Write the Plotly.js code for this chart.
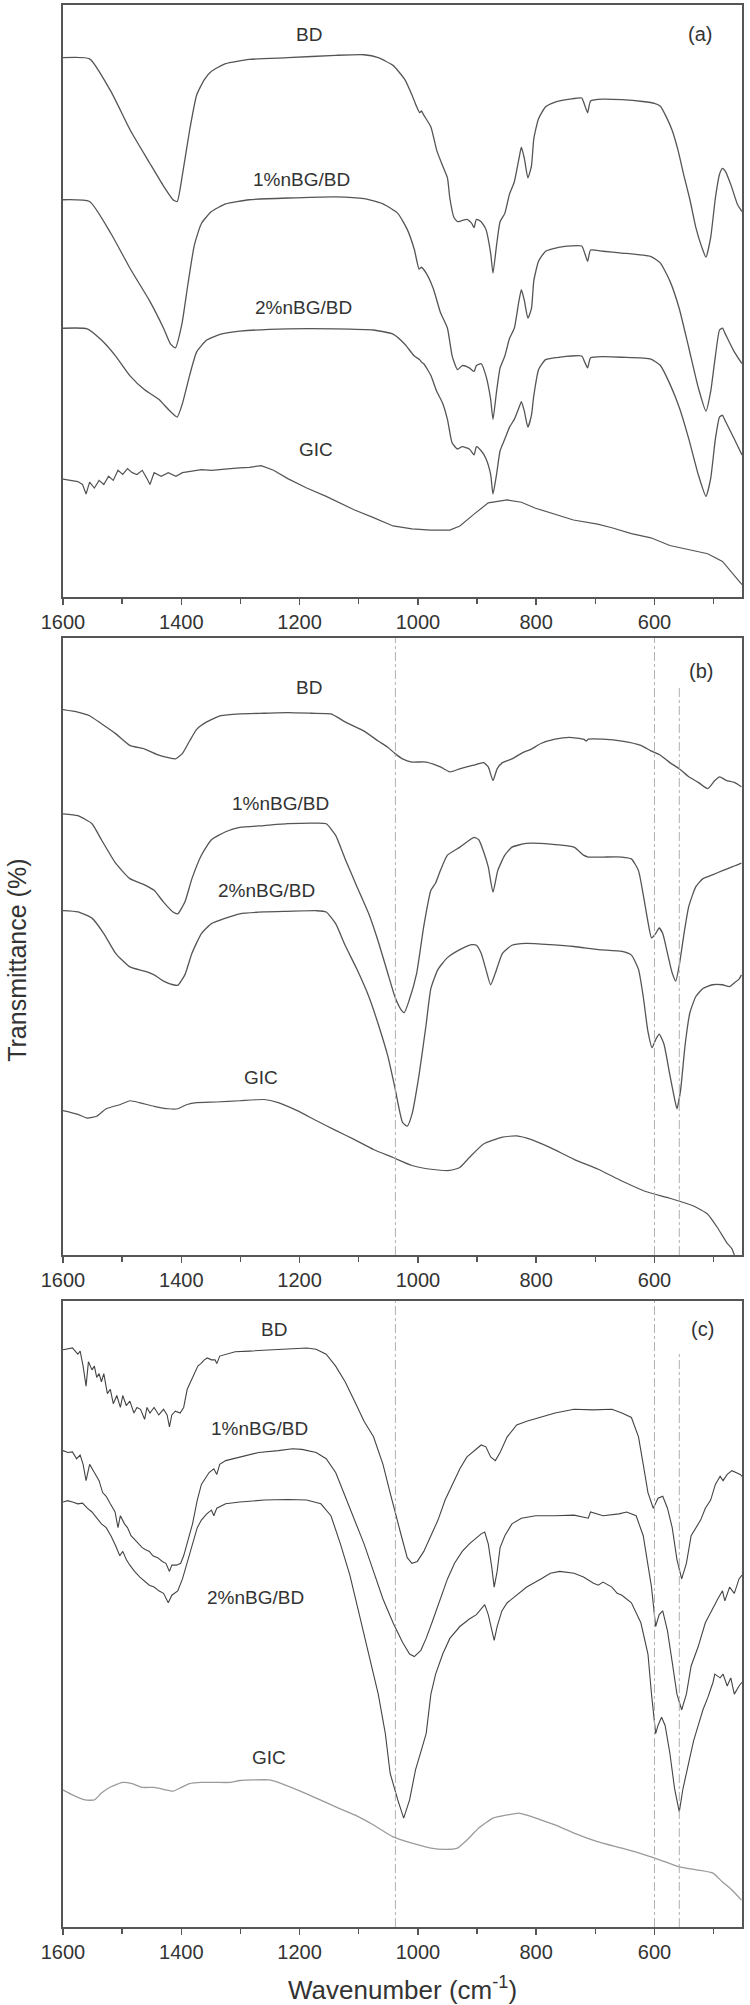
<!DOCTYPE html>
<html>
<head>
<meta charset="utf-8">
<script src="https://cdn.plot.ly/plotly-3.0.1.min.js"></script>
<style>
  html, body { margin: 0; padding: 0; background: #fff; }
  #plot { width: 750px; height: 2005px; }
</style>
</head>
<body>
<div id="plot"></div>
<script>
// FTIR spectra, three panels. Wavenumbers in cm-1, transmittance in arbitrary offset units (0-100 per panel)
const seriesNames = ['BD', '1%nBG/BD', '2%nBG/BD', 'GIC'];
const panelTags = ['(a)', '(b)', '(c)'];
const refLines = [1038, 600, 558];   // dashed guides in (b) and (c)
const refLineTops = [100, 100, 92];

// ---- panel (a)
const aWnBD = [1600,1555,1519,1486,1454,1430,1414,1407,1398,1386,1374,1361,1349,1325,1285,1220,1139,1091,1067,1042,1022,1010,1002,997,994,990,978,968,958,950,946,939,933,925,917,909,905,901,893,885,877,873,867,861,853,845,837,829,825,820,814,808,804,796,784,768,743,723,718,713,708,687,655,620,600,590,580,570,560,550,540,530,520,513,505,497,490,485,480,470,460,452];
const aTBD = [91.1,90.9,85.4,78.8,73.4,69.4,67.1,66.8,71.4,78.8,84.8,87.4,88.8,90.1,90.8,91.1,91.5,91.6,91.1,89.8,87.4,84.8,82.8,81.8,82.1,81.4,79.4,75.4,72.8,70.8,67.4,64.1,63.4,63.6,63.8,63.1,62.4,63.8,63.4,62.1,58.1,54.7,59.4,63.4,64.8,68.1,70.1,74.1,76.0,74.1,70.8,72.8,77.4,80.8,82.8,83.6,84.1,84.3,83.1,81.8,83.8,84.1,84.0,83.7,83.4,82.9,81.1,78.8,75.4,71.1,67.1,62.4,59.1,57.4,60.7,67.4,71.4,72.4,71.9,69.4,66.4,65.1];

const aWn1 = [1600,1555,1519,1486,1454,1430,1418,1410,1399,1389,1378,1366,1349,1325,1285,1220,1139,1091,1059,1034,1018,1006,998,994,986,974,962,950,942,933,925,913,905,901,893,885,877,873,867,861,853,845,837,829,825,820,814,808,804,796,784,760,723,718,713,708,687,655,606,590,574,558,542,526,513,505,497,490,485,480,465,452];
const aT1 = [67.1,66.8,61.4,55.4,50.1,45.4,42.7,42.1,46.1,52.7,59.4,63.1,65.1,66.4,67.1,67.4,67.6,67.3,66.4,64.8,62.1,58.7,55.4,55.7,54.7,52.1,48.1,45.4,40.7,38.4,39.1,38.7,38.1,39.1,39.4,37.4,33.4,30.0,34.7,38.7,40.7,43.7,45.4,50.1,51.9,50.1,47.1,48.7,53.4,56.7,58.4,59.1,59.3,58.1,56.7,58.6,58.4,58.1,57.5,56.4,53.4,48.7,42.1,35.4,31.4,34.7,40.7,45.1,45.4,44.4,41.4,39.4];

const aWn2 = [1600,1559,1535,1511,1487,1462,1438,1422,1407,1398,1386,1374,1357,1333,1301,1220,1139,1075,1042,1022,1006,997,994,990,978,968,958,950,942,933,925,913,905,901,893,885,877,873,867,861,853,845,837,829,825,820,814,808,804,796,784,760,723,718,713,708,687,655,606,590,574,558,542,526,513,505,497,490,485,480,465,452];
const aT2 = [45.4,45.3,43.4,40.7,37.4,35.0,33.4,31.7,30.4,32.7,37.4,41.4,43.4,44.4,44.9,45.3,45.3,45.1,44.4,42.7,40.7,40.1,39.7,39.4,37.4,34.7,32.7,30.0,26.0,25.0,25.4,25.0,24.0,25.4,24.7,23.4,20.7,17.4,20.7,24.7,26.7,28.7,30.0,32.0,33.0,31.4,28.7,30.7,34.0,38.4,40.1,40.5,40.7,39.7,38.7,40.4,40.6,40.5,40.2,39.1,36.0,32.0,26.7,20.7,17.0,20.0,26.7,30.4,30.7,29.7,26.7,24.0];

const aWnGIC = [1600,1584,1575,1567,1561,1555,1547,1539,1531,1523,1515,1507,1499,1491,1483,1475,1466,1458,1453,1446,1434,1422,1409,1398,1381,1366,1349,1333,1317,1301,1285,1265,1244,1220,1188,1155,1107,1075,1042,1010,978,946,929,905,881,849,825,801,768,737,696,672,639,606,574,542,510,485,469,457,452];
const aTGIC = [19.9,19.7,19.5,19.0,17.4,19.4,18.4,19.7,19.0,20.4,19.7,21.4,20.7,21.7,21.0,20.7,21.4,20.0,19.0,21.0,20.4,21.0,20.4,21.0,21.2,21.5,21.4,21.6,21.7,21.8,21.9,22.2,21.4,20.0,18.4,17.0,14.7,13.4,12.0,11.5,11.3,11.3,12.0,14.0,15.9,16.4,16.0,15.0,14.0,13.0,12.3,11.7,10.7,10.0,8.7,8.0,7.3,6.0,4.0,2.7,2.1];

// ---- panel (b)
const bWnBD = [1600,1575,1555,1535,1511,1487,1462,1438,1422,1410,1398,1386,1374,1357,1333,1301,1260,1220,1180,1147,1123,1091,1067,1051,1039,1026,1010,986,962,946,929,905,889,881,873,866,857,841,825,816,808,792,768,744,720,715,712,687,655,623,606,590,574,558,542,526,510,498,490,478,465,453];
const bTBD = [88.4,88.0,87.4,86.1,84.5,82.6,82.0,81.0,80.6,80.4,81.3,83.3,85.2,86.4,87.4,87.7,87.8,87.9,87.8,87.7,86.4,84.9,83.3,82.3,81.3,80.4,79.9,79.9,79.1,78.3,78.8,79.4,79.8,79.1,76.9,78.8,79.8,80.4,81.3,81.7,82.0,82.9,83.6,83.9,83.6,83.3,83.6,83.6,83.3,82.6,81.7,81.0,79.8,78.8,77.5,76.6,75.6,76.9,77.5,76.9,76.6,75.9];

const bWn1 = [1600,1575,1551,1535,1511,1487,1462,1446,1430,1414,1406,1394,1382,1366,1349,1325,1301,1260,1220,1172,1155,1139,1123,1103,1083,1067,1051,1039,1028,1023,1015,1002,990,978,970,962,950,929,905,897,889,881,873,865,853,841,817,776,736,720,712,687,655,639,627,619,611,605,598,592,586,578,570,564,558,550,542,530,518,502,485,469,461,453];
const bT1 = [71.5,71.2,69.9,67.3,63.5,61.0,60.0,59.1,57.2,55.6,55.3,57.2,61.0,64.8,67.3,68.6,69.3,69.6,69.9,70.0,69.9,68.0,64.2,59.7,55.3,50.8,45.7,41.9,39.7,39.3,41.2,45.7,53.3,59.1,60.3,62.3,64.8,66.1,67.7,67.3,65.4,62.9,58.8,62.3,64.8,66.1,66.7,66.6,66.1,64.8,64.5,64.5,64.5,64.2,62.3,58.4,54.0,51.4,52.1,53.0,52.1,48.9,45.7,44.4,47.0,52.1,56.5,59.7,61.0,61.6,62.3,62.9,63.2,63.5];

const bWn2 = [1600,1575,1551,1531,1511,1487,1462,1446,1430,1414,1406,1394,1382,1366,1349,1325,1301,1260,1220,1172,1155,1139,1123,1103,1083,1067,1051,1039,1026,1018,1010,998,986,978,966,950,929,909,901,893,885,877,869,857,841,817,776,736,695,655,639,627,619,611,604,598,592,584,574,566,562,556,548,540,530,518,502,485,473,465,457,453];
const bT2 = [55.8,55.6,54.6,52.1,48.9,46.7,46.0,45.4,44.4,43.8,43.7,45.4,48.9,52.1,53.7,54.6,55.3,55.6,55.7,55.8,55.6,53.7,50.2,46.3,41.9,37.4,32.3,27.2,21.5,20.9,22.8,29.2,37.4,43.2,46.3,48.2,49.5,50.3,50.2,48.9,46.3,43.8,45.7,48.9,50.2,50.5,50.3,50.0,49.5,49.2,48.6,46.3,41.9,36.2,33.6,34.9,35.8,34.2,29.2,25.3,23.7,26.6,34.2,39.3,41.9,43.2,43.8,43.8,43.5,44.1,44.7,45.4];

const bWnGIC = [1600,1575,1559,1543,1527,1503,1487,1471,1446,1422,1406,1390,1374,1341,1301,1260,1236,1204,1172,1139,1107,1075,1042,1010,978,946,929,913,889,857,833,808,776,736,695,655,615,574,533,510,494,477,469,455];
const bTGIC = [23.4,22.8,22.2,22.5,23.7,24.4,25.0,24.7,24.1,23.7,23.7,24.4,24.7,24.8,25.0,25.2,24.7,23.4,21.8,20.2,18.7,17.1,15.8,14.5,13.9,13.7,14.2,15.8,18.0,19.1,19.3,18.7,17.4,15.5,13.9,12.0,10.3,9.2,7.9,6.6,4.5,1.9,1.0,-3];

// ---- panel (c)
const cWnBD = [1600,1592,1584,1575,1571,1566,1561,1557,1551,1547,1543,1539,1535,1531,1525,1520,1515,1509,1503,1499,1493,1487,1480,1475,1469,1462,1458,1453,1446,1438,1430,1424,1420,1416,1410,1402,1396,1390,1383,1378,1372,1367,1361,1356,1349,1343,1340,1335,1325,1309,1285,1252,1220,1188,1172,1155,1139,1123,1107,1091,1075,1059,1047,1039,1028,1018,1010,1001,990,978,966,954,942,929,917,905,893,885,877,869,861,849,833,816,792,768,736,704,672,655,639,627,619,611,602,594,586,578,570,562,554,546,538,530,522,514,505,497,489,484,477,469,461,455,452];
const cTBD = [92.2,92.3,92.5,91.5,92.0,89.6,86.4,90.3,89.0,89.6,87.8,88.4,87.1,88.4,85.2,85.9,83.6,84.9,83.0,84.9,83.3,84.0,82.1,83.0,82.7,81.1,83.0,82.1,83.0,81.8,82.7,81.8,79.9,81.8,82.4,82.1,83.0,85.9,87.4,88.4,89.6,90.0,90.6,90.9,90.6,90.6,90.0,91.2,91.5,91.9,92.0,92.2,92.3,92.5,92.3,91.5,89.6,87.1,84.0,80.8,78.3,73.9,69.4,66.3,62.5,59.0,58.1,58.4,60.0,62.5,65.0,68.2,70.7,73.2,75.1,76.1,77.0,76.7,75.1,74.5,75.8,78.3,80.2,80.8,81.4,82.1,82.7,82.6,82.7,82.1,81.4,78.3,73.9,69.4,66.9,68.5,68.8,66.9,63.8,58.7,55.6,58.1,62.5,63.8,65.0,66.9,68.2,70.7,72.0,71.3,72.3,72.9,72.6,72.3,72.0];

const cWn1 = [1600,1592,1584,1577,1571,1566,1561,1555,1547,1539,1533,1527,1520,1512,1507,1503,1496,1491,1485,1479,1472,1466,1461,1454,1448,1440,1432,1426,1420,1416,1408,1401,1396,1390,1381,1373,1366,1353,1345,1340,1335,1325,1301,1269,1236,1212,1196,1172,1155,1139,1123,1107,1091,1075,1059,1042,1026,1014,1006,995,986,974,962,950,938,925,913,901,893,887,881,875,871,866,861,853,841,825,801,768,736,712,708,687,660,647,631,619,611,605,598,592,586,578,570,562,554,546,538,526,514,501,493,485,481,473,465,457,452];
const cT1 = [76.1,75.8,75.9,74.8,75.4,73.9,71.3,73.9,72.6,71.3,69.4,68.8,67.6,66.3,63.8,65.7,64.4,63.8,62.5,61.9,61.2,60.6,60.3,60.0,59.3,59.0,58.4,58.1,56.8,57.8,57.8,58.1,59.3,61.2,64.4,68.2,70.7,72.6,73.2,72.3,73.9,74.5,75.1,75.8,76.1,76.4,76.3,75.8,74.8,72.6,68.8,65.0,61.2,56.8,52.4,48.6,45.5,43.6,43.2,44.2,46.1,49.2,52.4,55.6,58.1,60.0,61.2,62.2,62.8,63.1,61.2,57.4,54.3,56.8,60.6,62.5,64.4,65.3,65.7,65.7,65.8,65.3,66.3,65.7,66.0,66.3,65.7,62.5,57.4,54.3,48.0,49.9,50.5,47.3,42.3,37.2,34.7,37.2,41.7,44.8,48.6,51.1,52.4,53.7,52.1,54.3,53.3,55.6,56.2];

const cWn2 = [1600,1592,1584,1575,1567,1559,1551,1543,1535,1527,1519,1511,1504,1499,1493,1487,1479,1470,1462,1454,1446,1438,1430,1422,1416,1406,1398,1390,1381,1373,1366,1357,1349,1345,1340,1325,1301,1260,1220,1188,1164,1147,1131,1115,1099,1083,1067,1055,1047,1034,1024,1014,1004,994,986,978,970,958,946,929,913,901,891,887,881,875,871,866,858,849,833,816,792,776,760,736,720,703,695,687,672,663,655,639,623,611,605,598,594,588,582,574,566,558,552,546,542,534,526,518,510,501,498,489,484,477,471,465,457,452];
const cT2 = [67.9,68.1,67.9,67.6,67.7,66.9,66.3,65.3,64.4,63.8,62.5,60.9,59.3,60.0,58.7,57.8,56.8,55.9,55.2,54.6,54.3,53.7,53.3,51.8,53.0,53.7,55.6,58.1,61.2,63.8,65.0,66.0,66.6,65.7,66.9,67.6,67.9,68.2,68.3,68.2,67.6,65.7,61.2,56.2,49.9,43.6,37.2,30.9,24.6,20.3,17.4,20.3,25.1,28.3,30.9,37.2,40.4,43.6,46.1,48.0,49.2,49.9,51.1,51.5,49.9,47.3,45.8,48.0,50.5,51.8,53.0,54.3,55.6,56.5,56.8,56.5,55.9,54.9,54.6,55.1,54.3,53.3,53.0,51.8,48.6,43.6,37.2,30.9,32.2,33.5,32.2,27.8,22.1,18.4,22.0,24.5,26.0,29.7,32.2,34.7,36.6,39.1,40.4,39.8,40.4,38.5,39.8,37.2,38.5,39.1];

const cWnGIC = [1600,1584,1563,1547,1535,1519,1499,1483,1466,1446,1430,1414,1402,1386,1366,1341,1317,1301,1277,1252,1236,1204,1172,1139,1107,1075,1042,1010,978,954,933,917,897,873,849,829,817,792,768,736,695,655,615,590,558,526,501,485,469,453];
const cTGIC = [21.9,21.1,20.3,20.3,21.4,22.4,23.1,22.9,22.3,22.3,22.0,21.7,22.2,22.9,23.1,23.1,23.1,23.4,23.5,23.5,23.1,21.9,20.6,19.2,17.9,16.3,14.4,13.4,12.6,12.4,12.6,13.9,15.8,17.4,17.9,18.2,17.9,17.1,16.3,15.0,13.6,12.6,11.5,10.7,9.6,9.1,8.6,7.2,5.9,4.3];

// label positions [wavenumber, value] per panel, in series order
const labelPos = [
  [[1184, 95.1], [1196, 70.6], [1194, 48.9], [1172, 24.9]],
  [[1184, 91.9], [1232, 73.1], [1256, 59.1], [1265, 28.8]],
  [[1243, 95.5], [1268, 79.7], [1275, 52.6], [1252, 27.1]]
];
const tagPos = [[523, 95.1], [522, 94.7], [518, 95.5]];

const ink = '#555';
const font = 'Arial, "Liberation Sans", sans-serif';
const suffix = ['', '2', '3'];

function spec(wn, t, p, color, width, smooth) {
  return {
    x: wn, y: t, type: 'scatter', mode: 'lines',
    xaxis: 'x' + suffix[p], yaxis: 'y' + suffix[p],
    line: smooth ? { color: color, width: width, shape: 'spline', smoothing: 0.5 }
                 : { color: color, width: width },
    hoverinfo: 'skip', showlegend: false
  };
}

const traces = [
  spec(aWnBD, aTBD, 0, ink, 1.3, true), spec(aWn1, aT1, 0, ink, 1.3, true),
  spec(aWn2, aT2, 0, ink, 1.3, true), spec(aWnGIC, aTGIC, 0, ink, 1.2, false),
  spec(bWnBD, bTBD, 1, ink, 1.3, true), spec(bWn1, bT1, 1, ink, 1.3, true),
  spec(bWn2, bT2, 1, ink, 1.3, true), spec(bWnGIC, bTGIC, 1, ink, 1.2, true),
  spec(cWnBD, cTBD, 2, '#444', 1.1, false), spec(cWn1, cT1, 2, '#444', 1.1, false),
  spec(cWn2, cT2, 2, '#444', 1.1, false), spec(cWnGIC, cTGIC, 2, '#9a9a9a', 1.3, true)
];

// vertical placement of the panels, in px of the 2005 px page
const H = 2005;
const panelPx = [[5, 597], [638, 1255], [1301, 1927]];

function xAxis(p) {
  return {
    domain: [0, 1], range: [1600, 452], anchor: 'y' + suffix[p],
    tick0: 0, dtick: 200, ticks: 'outside', ticklen: 6, tickwidth: 1.5, tickcolor: ink,
    minor: { tick0: 0, dtick: 100, ticks: 'outside', ticklen: 5, tickwidth: 1.5, tickcolor: ink },
    showline: true, mirror: true, linecolor: ink, linewidth: 2,
    showgrid: false, zeroline: false,
    tickfont: { family: font, size: 20, color: '#333' }
  };
}
function yAxis(p) {
  const px = panelPx[p];
  return {
    domain: [1 - px[1] / H, 1 - px[0] / H], range: [0, 100], anchor: 'x' + suffix[p],
    showticklabels: false, ticks: '', showgrid: false, zeroline: false,
    showline: true, mirror: true, linecolor: ink, linewidth: 2
  };
}

const annotations = [];
const shapes = [];
for (let p = 0; p < 3; p++) {
  seriesNames.forEach((name, i) => {
    annotations.push({
      x: labelPos[p][i][0], y: labelPos[p][i][1], xref: 'x' + suffix[p], yref: 'y' + suffix[p],
      text: name, showarrow: false, font: { family: font, size: 19, color: '#333' }
    });
  });
  annotations.push({
    x: tagPos[p][0], y: tagPos[p][1], xref: 'x' + suffix[p], yref: 'y' + suffix[p],
    text: panelTags[p], showarrow: false, font: { family: font, size: 20, color: '#333' }
  });
  if (p > 0) {
    refLines.forEach((w, k) => {
      shapes.push({
        type: 'line', xref: 'x' + suffix[p], yref: 'y' + suffix[p],
        x0: w, x1: w, y0: 0, y1: refLineTops[k],
        line: { color: '#b0b0b0', width: 1, dash: 'dashdot' }
      });
    });
  }
}

annotations.push({
  xref: 'paper', yref: 'paper', x: 0.5, y: 1 - 1988 / H, xanchor: 'center', yanchor: 'middle',
  text: 'Wavenumber (cm<sup>-1</sup>)', showarrow: false,
  font: { family: font, size: 26, color: '#333' }
});
annotations.push({
  xref: 'paper', yref: 'paper', x: -0.068, y: 1 - 960 / H, xanchor: 'center', yanchor: 'middle',
  text: 'Transmittance (%)', textangle: -90, showarrow: false,
  font: { family: font, size: 25, color: '#333' }
});

const layout = {
  width: 750, height: H,
  margin: { l: 63, r: 8, t: 0, b: 0 },
  paper_bgcolor: '#fff', plot_bgcolor: '#fff',
  xaxis: xAxis(0), yaxis: yAxis(0),
  xaxis2: xAxis(1), yaxis2: yAxis(1),
  xaxis3: xAxis(2), yaxis3: yAxis(2),
  annotations: annotations,
  shapes: shapes
};

Plotly.newPlot('plot', traces, layout, { staticPlot: true });
</script>
</body>
</html>
